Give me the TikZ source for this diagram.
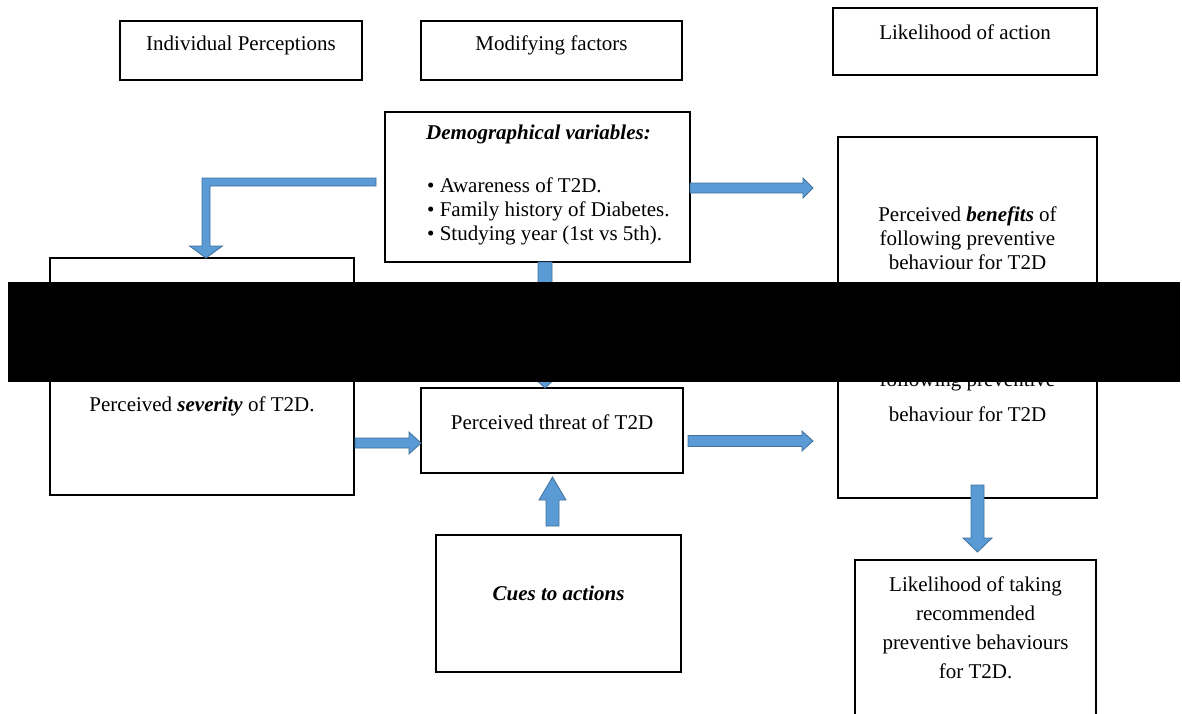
\documentclass[tikz,border=0pt]{standalone}
\usepackage{fontspec}
\setmainfont{Liberation Serif}
\usetikzlibrary{calc}

\definecolor{arrfill}{HTML}{5B9BD5}
\definecolor{arredge}{HTML}{41719C}

% Block arrow from #1 to the tip #2: shaft half width #3, head half width #4, head length #5
\newcommand{\drawblockarrow}[5]{%
  \coordinate (ba-a) at (#1);
  \coordinate (ba-b) at (#2);
  \coordinate (ba-h) at ($(ba-b)!#5!(ba-a)$);
  \draw[arrowbody]
    ($(ba-a)!#3!90:(ba-b)$) -- ($(ba-h)!#3!90:(ba-b)$) -- ($(ba-h)!#4!90:(ba-b)$)
    -- (ba-b)
    -- ($(ba-h)!#4!-90:(ba-b)$) -- ($(ba-h)!#3!-90:(ba-b)$) -- ($(ba-a)!#3!-90:(ba-b)$) -- cycle;}

\begin{document}
\begin{tikzpicture}[x=1pt,y=-1pt,
  box/.style={draw=black, line width=1.5pt, anchor=north west, inner sep=0pt, outer sep=0pt},
  txt/.style={font=\fontsize{21}{24}\selectfont, align=center, inner sep=0pt},
  arrowbody/.style={fill=arrfill, draw=arredge, line width=0.8pt, line join=miter}]
\useasboundingbox (0,0) rectangle (1182,713);
\clip (0,0) rectangle (1182,713);

% column headings
\node[box, minimum width=242pt, minimum height=59pt] (hIP) at (120,21) {};
\node[txt] (tIP) at ($(hIP.north)+(0,24)$) {Individual Perceptions};
\node[box, minimum width=261pt, minimum height=59pt] (hMF) at (421,21) {};
\node[txt] (tMF) at ($(hMF.north)+(0,24)$) {Modifying factors};
\node[box, minimum width=264pt, minimum height=67pt] (hLA) at (833,8) {};
\node[txt] (tLA) at ($(hLA.north)+(0,24)$) {Likelihood of action};

% modifying factors
\node[box, minimum width=305pt, minimum height=150pt] (demo) at (385,112) {};
\node[txt] (tDemoHead) at ($(demo.north)+(1,22)$) {\textbf{\textit{Demographical variables:}}};
\node[txt, align=left, anchor=west] (tDemoList) at ($(demo.north west)+(42,99)$)
  {\textbullet\ Awareness of T2D.\\ \textbullet\ Family history of Diabetes.\\ \textbullet\ Studying year (1st vs 5th).};

% benefits and barriers
\node[box, minimum width=259pt, minimum height=163pt] (benefit) at (838,137) {};
\node[txt] (tBenefit) at ($(benefit.north)+(0,101)$)
  {Perceived \textbf{\textit{benefits}} of\\ following preventive\\ behaviour for T2D};
\node[box, minimum width=259pt, minimum height=183pt] (barrier) at (838,315) {};
\node[txt, font=\fontsize{21}{35}\selectfont] (tBarrier) at ($(barrier.north)+(0,82)$)
  {following preventive\\ behaviour for T2D};

% individual perceptions
\node[box, minimum width=304pt, minimum height=237pt] (sus) at (50,258) {};
\node[txt] (tSev) at ($(sus.north)+(0,148)$) {Perceived \textbf{\textit{severity}} of T2D.};

% threat and cues
\node[box, minimum width=262pt, minimum height=85pt] (threat) at (421,388) {};
\node[txt] (tThreat) at ($(threat.north)+(0,34)$) {Perceived threat of T2D};
\node[box, minimum width=245pt, minimum height=137pt] (cues) at (436,535) {};
\node[txt] (tCues) at ($(cues.north)+(0,58)$) {\textbf{\textit{Cues to actions}}};

% likelihood of taking action
\node[box, minimum width=241pt, minimum height=175pt] (like) at (855,560) {};
\node[txt, font=\fontsize{21}{29}\selectfont] (tLike) at ($(like.north)+(0,68)$)
  {Likelihood of taking\\ recommended\\ preventive behaviours\\ for T2D.};

% elbow arrow: demographics -> individual perceptions
\coordinate (el-s) at ([xshift=-9pt,yshift=5pt]demo.west);
\coordinate (el-t) at ([xshift=4pt]sus.north);
\draw[arrowbody]
  ($(el-s)+(0,-4)$) -- ($(el-t |- el-s)+(-4,-4)$) -- ($(el-t)+(-4,-12)$) -- ($(el-t)+(-16.5,-12)$)
  -- (el-t)
  -- ($(el-t)+(16.5,-12)$) -- ($(el-t)+(4,-12)$) -- ($(el-t |- el-s)+(4,4)$) -- ($(el-s)+(0,4)$) -- cycle;

% demographics -> benefits
\coordinate (d2b-s) at ([yshift=-1pt]demo.east);
\coordinate (d2b-e) at ($(benefit.west |- d2b-s)+(-25,0)$);
\drawblockarrow{d2b-s}{d2b-e}{5pt}{10pt}{10pt}

% demographics -> threat
\coordinate (d2t-s) at ([xshift=7.5pt]demo.south);
\coordinate (d2t-e) at (threat.north -| d2t-s);
\drawblockarrow{d2t-s}{d2t-e}{7pt}{13pt}{12pt}

% severity -> threat
\coordinate (s2t-e) at ($(threat.west)+(0,12.5)$);
\coordinate (s2t-s) at ($(sus.east |- s2t-e)+(1,0)$);
\drawblockarrow{s2t-s}{s2t-e}{5pt}{11pt}{12pt}

% threat -> barriers
\coordinate (t2r-s) at ($(threat.east)+(5,10.5)$);
\coordinate (t2r-e) at ($(barrier.west |- t2r-s)+(-25,0)$);
\drawblockarrow{t2r-s}{t2r-e}{5.5pt}{10pt}{11pt}

% cues -> threat
\coordinate (c2t-s) at ($(cues.north)+(-6,-9)$);
\coordinate (c2t-e) at ($(threat.south -| c2t-s)+(0,4)$);
\drawblockarrow{c2t-s}{c2t-e}{6.5pt}{13.5pt}{23pt}

% barriers -> likelihood
\coordinate (b2l-s) at ($(barrier.south)+(10,-13)$);
\coordinate (b2l-e) at ($(like.north -| b2l-s)+(0,-8)$);
\drawblockarrow{b2l-s}{b2l-e}{6.5pt}{14.5pt}{14pt}

% black band across the middle
\fill[black] (8,282) rectangle (1180,382);
\end{tikzpicture}
\end{document}
